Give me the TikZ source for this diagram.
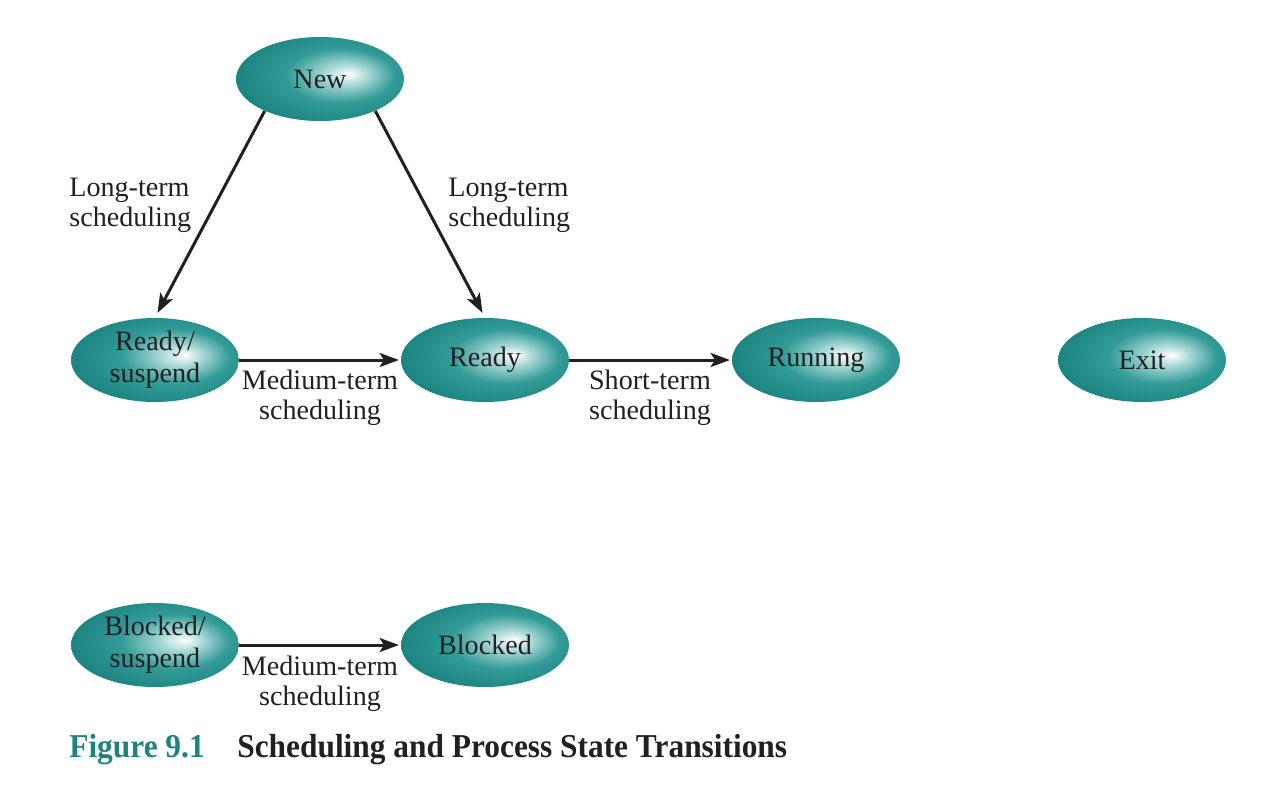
\documentclass[tikz,border=0pt]{standalone}
\usepackage{fontspec}
\setmainfont{Liberation Serif}
\newfontfamily\capfont[FakeStretch=0.94]{Liberation Serif}
\usetikzlibrary{shapes.geometric,arrows.meta}

\definecolor{statedark}{RGB}{26,130,126}
\definecolor{statemid}{RGB}{52,156,152}
\definecolor{statelight}{RGB}{170,218,215}
\definecolor{figteal}{RGB}{30,130,125}
\definecolor{ink}{RGB}{35,31,32}

% radial fill with the bright spot placed up and to the right of centre
\pgfdeclareradialshading{stateglow}{\pgfpoint{9bp}{3bp}}{%
  color(0bp)=(white);
  color(6bp)=(statelight);
  color(16bp)=(statemid);
  color(30bp)=(statedark);
  color(50bp)=(statedark)}

\tikzset{
  state/.style={ellipse, shading=stateglow, minimum width=3.36cm,
    minimum height=1.68cm, inner sep=0pt, align=center, text=ink,
    font=\fontsize{16}{18}\selectfont},
  lbl/.style={inner sep=0pt, text=ink, font=\fontsize{16}{17}\selectfont},
  trans/.style={-{Stealth[length=11pt,width=8pt,inset=2.5pt]},
    line width=1.7pt, draw=ink}
}

\begin{document}
\begin{tikzpicture}[x=0.02cm,y=-0.02cm]
\useasboundingbox (0,0) rectangle (1280,792);

% states
\node[state] (new)     at (320,79)  {New};
\node[state] (rsusp)   at (155,360) {Ready/\\suspend};
\node[state] (ready)   at (485,360) {Ready};
\node[state] (running) at (816,360) {Running};
\node[state] (exit)    at (1142,360) {Exit};
\node[state] (bsusp)   at (155,645) {Blocked/\\suspend};
\node[state] (blocked) at (485,645) {Blocked};

% transitions
\draw[trans, shorten >=3pt] (new.210) -- (rsusp.north);
\draw[trans, shorten >=3pt] (new.330) -- (ready.north);
\draw[trans, shorten >=1pt] (rsusp.east) -- (ready.west);
\draw[trans, shorten >=1pt] (ready.east) -- (running.west);
\draw[trans, shorten >=1pt] (bsusp.east) -- (blocked.west);

% transition labels
\node[lbl, anchor=west, align=left] (lt1) at (69,205) {Long-term\\scheduling};
\node[lbl, anchor=west, align=left] (lt2) at (448,205) {Long-term\\scheduling};
\node[lbl, align=center] (mt1) at (320,398) {Medium-term\\scheduling};
\node[lbl, align=center] (st)  at (650,398) {Short-term\\scheduling};
\node[lbl, align=center] (mt2) at (320,684) {Medium-term\\scheduling};

% caption
\node[inner sep=0pt, anchor=base west, text=figteal,
  font=\capfont\bfseries\fontsize{19}{20}\selectfont] (fignum) at (69,757) {Figure 9.1};
\node[inner sep=0pt, anchor=base west, text=ink,
  font=\capfont\bfseries\fontsize{19}{20}\selectfont] (figtitle) at (237,757)
  {Scheduling and Process State Transitions};
\end{tikzpicture}
\end{document}
